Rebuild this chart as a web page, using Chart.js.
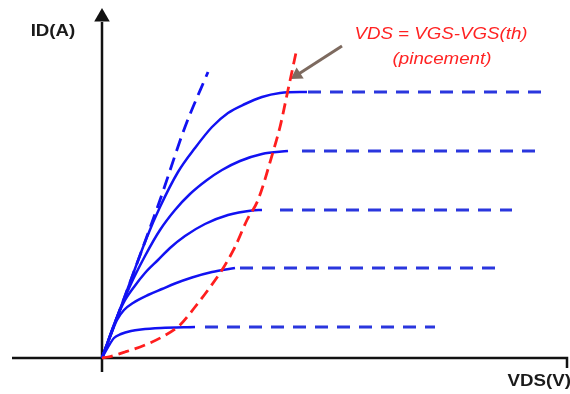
<!DOCTYPE html>
<html>
<head>
<meta charset="utf-8">
<script src="https://cdn.jsdelivr.net/npm/chart.js@4"></script>
<style>
  body { margin: 0; background: #fff; }
  #wrap { width: 570px; height: 394px; }
</style>
</head>
<body>
<div id="wrap"><canvas id="chart"></canvas></div>
<script>
// Courbes ID = f(VDS) pour plusieurs VGS (unites arbitraires)
const curve1 = [[0,0],[2.3,6.2],[4.5,12.1],[5.8,15.1],[7.6,18.6],[9.3,21],[11,23.1],[12.6,24.5],[14.3,25.4],[16,26.1],[17.8,26.5],[19.8,26.6],[20.5,26.6]];
const curve2 = [[0,0],[1.3,3.6],[2.8,7.2],[4.3,10.2],[5.8,12.8],[7.3,14.8],[8.8,16.4],[10.5,17.8],[12,18.8],[13.8,19.7],[16,20.4],[18.6,20.7]];
const curve3 = [[0,0],[1.4,3.8],[2.2,5.6],[3.2,7.1],[4.3,8.5],[5.6,9.8],[6.8,11],[8.3,12.2],[10.3,13.4],[12.6,14.3],[15,14.75],[16,14.8]];
const curve4 = [[0,0],[0.8,2.1],[1.5,3.8],[2.2,4.8],[3.1,5.5],[4.6,6.3],[6,6.9],[7.3,7.45],[9,8.05],[11,8.6],[13.3,9]];
const curve5 = [[0,0],[0.6,1.1],[1.2,2],[1.9,2.4],[2.9,2.7],[3.9,2.85],[5.9,3],[9.3,3.1]];

// zone de saturation (pointilles)
const plateauStart = [20.6, 20, 17.8, 13.8, 10.3];
const plateauEnd = [44.8, 43.5, 41, 39.6, 33.3];
const plateauId = [26.6, 20.7, 14.8, 9, 3.1];

// droite en pointilles (zone ohmique) et limite de pincement
const ohmic = [[0,0],[5.8,15.8],[8.3,23.1],[10.6,28.6]];
const pinch = [[0,0],[0.6,0.1],[2.3,0.6],[4.3,1.3],[6,2.1],[7.8,3.3],[9.3,5.1],[10.6,6.8],[12,8.8],[13.3,11.1],[14.5,13.8],[15.6,15.8],[17.1,20.6],[17.8,23.1],[18.6,26.8],[19.5,31]];

// axes et fleche d'annotation
const yAxisLine = [[0,-1.4],[0,33.6]];
const xAxisLine = [[-9,0],[46.5,0],[46.5,-1]];
const yArrowTip = [[0,34.1]];
const noteArrow = [[24,31.2],[19.5,28.3]];

const toPts = arr => arr.map(p => ({x: p[0], y: p[1]}));

const blue = '#1212f2';
const blueDash = '#2a36de';

const datasets = [];

datasets.push({ data: toPts(pinch), borderColor: '#ff1e1e', borderWidth: 2.8, borderDash: [11, 6], cubicInterpolationMode: 'monotone' });
datasets.push({ data: toPts(noteArrow), borderColor: '#7d6a5f', borderWidth: 3, pointStyle: 'triangle', pointRadius: [0, 7.5], pointRotation: 237, pointBackgroundColor: '#7d6a5f', pointBorderWidth: 0 });

[curve1, curve2, curve3, curve4, curve5].forEach(c => {
  datasets.push({ data: toPts(c), borderColor: blue, borderWidth: 2.5, cubicInterpolationMode: 'monotone' });
});

for (let i = 0; i < plateauId.length; i++) {
  datasets.push({
    data: toPts([[plateauStart[i], plateauId[i]], [plateauEnd[i], plateauId[i]]]),
    borderColor: blueDash, borderWidth: 3, borderDash: [13, 9]
  });
}

datasets.push({ data: toPts(ohmic), borderColor: blue, borderWidth: 2.8, borderDash: [13, 7], cubicInterpolationMode: 'monotone' });

datasets.push({ data: toPts(yAxisLine), borderColor: '#111', borderWidth: 2.5 });
datasets.push({ data: toPts(xAxisLine), borderColor: '#111', borderWidth: 2.5 });
datasets.push({ data: toPts(yArrowTip), showLine: false, pointStyle: 'triangle', pointRadius: 9, pointBackgroundColor: '#111', pointBorderWidth: 0 });

// textes
const labels = {
  id: 'ID(A)',
  vds: 'VDS(V)',
  eq: 'VDS = VGS-VGS(th)',
  pinc: '(pincement)'
};

const textPlugin = {
  id: 'textes',
  afterDraw(chart) {
    const c = chart.ctx;
    const put = (txt, x, y, font, color, align) => {
      c.save();
      c.translate(x, y);
      c.scale(1.17, 1);
      c.font = font;
      c.fillStyle = color;
      c.textAlign = align;
      c.textBaseline = 'middle';
      c.fillText(txt, 0, 0);
      c.restore();
    };
    put(labels.id, 53, 32, 'bold 16px "Liberation Sans", Arial, sans-serif', '#1a1a1a', 'center');
    put(labels.vds, 571, 382, 'bold 16px "Liberation Sans", Arial, sans-serif', '#1a1a1a', 'right');
    put(labels.eq, 441, 35, 'italic 16px "Liberation Sans", Arial, sans-serif', '#ff2222', 'center');
    put(labels.pinc, 442, 60, 'italic 16px "Liberation Sans", Arial, sans-serif', '#ff2222', 'center');
  }
};

const ctx = document.getElementById('chart').getContext('2d');
const myChart = new Chart(ctx, {
  type: 'scatter',
  data: { datasets: datasets.map(d => Object.assign({ showLine: true, pointRadius: 0, fill: false }, d)) },
  options: {
    responsive: true,
    maintainAspectRatio: false,
    animation: false,
    layout: { padding: 0, autoPadding: false },
    plugins: { legend: { display: false }, tooltip: { enabled: false } },
    scales: {
      x: { type: 'linear', display: false, min: -10.2, max: 46.8 },
      y: { type: 'linear', display: false, min: -3.6, max: 35.8 }
    }
  },
  plugins: [textPlugin]
});
</script>
</body>
</html>
